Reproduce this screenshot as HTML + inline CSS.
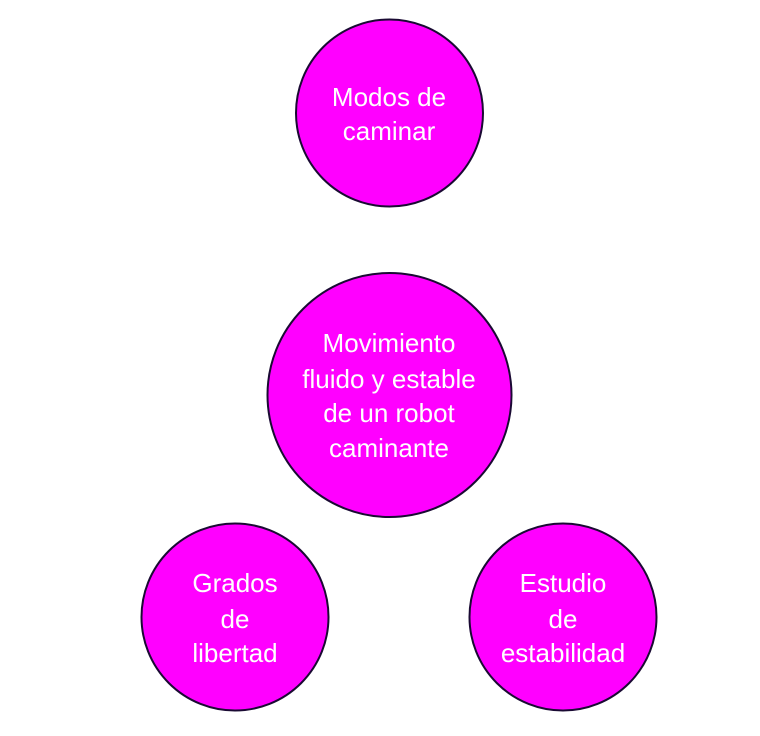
<!DOCTYPE html>
<html><head><meta charset="utf-8"><style>
html,body{margin:0;padding:0;background:#fff;}
text{font-family:"Liberation Sans",sans-serif;font-size:26px;fill:#fff;text-anchor:middle;}
</style></head><body>
<svg width="760" height="731" viewBox="0 0 760 731" xmlns="http://www.w3.org/2000/svg">
<g fill="#ff00ff" stroke="#1a0a33" stroke-width="2">
<circle cx="389.5" cy="113" r="93.5"/>
<circle cx="389.5" cy="395" r="122"/>
<circle cx="235" cy="617" r="93.5"/>
<circle cx="563" cy="617" r="93.5"/>
</g>
<text x="389" y="106">Modos de</text>
<text x="389" y="140">caminar</text>
<text x="389" y="352">Movimiento</text>
<text x="389" y="388">fluido y estable</text>
<text x="389" y="422">de un robot</text>
<text x="389" y="457">caminante</text>
<text x="235" y="592">Grados</text>
<text x="235" y="628">de</text>
<text x="235" y="662">libertad</text>
<text x="563" y="592">Estudio</text>
<text x="563" y="628">de</text>
<text x="563" y="662">estabilidad</text>
</svg>
</body></html>
